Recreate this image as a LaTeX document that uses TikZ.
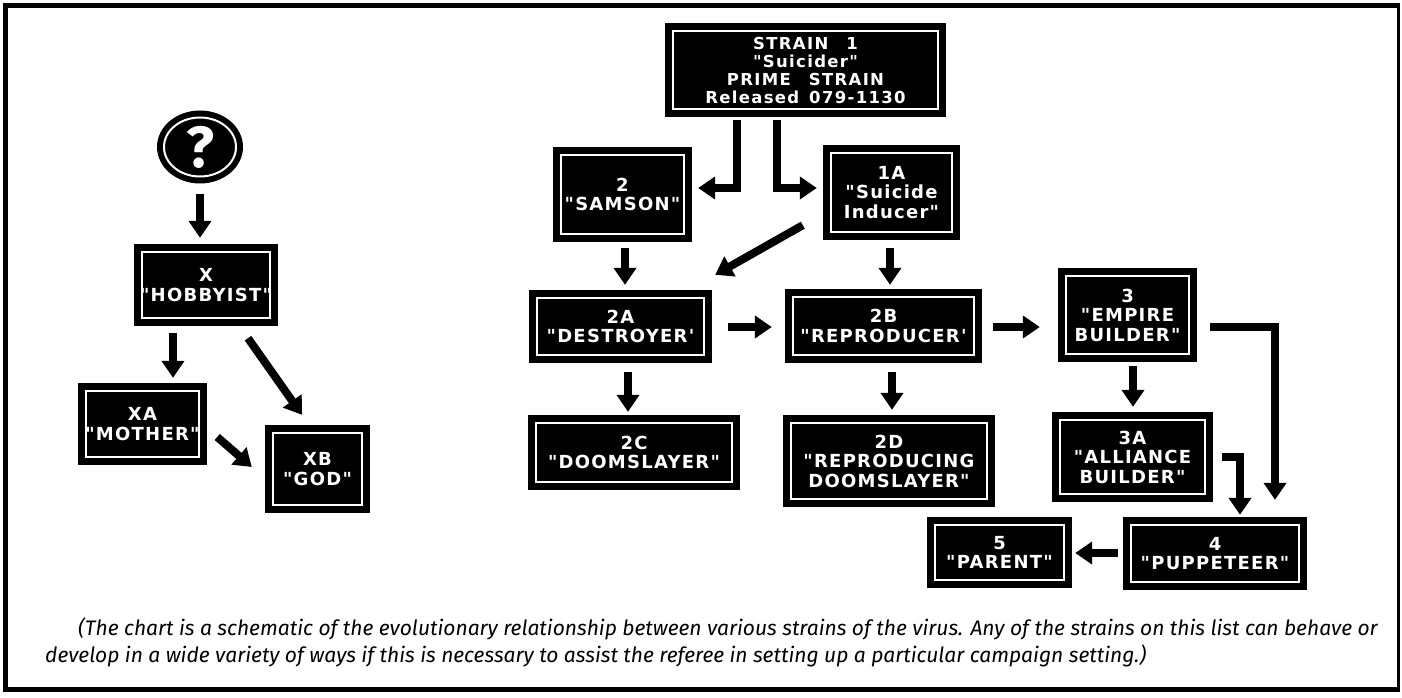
\documentclass[tikz,border=0pt]{standalone}
\usepackage{fontspec}
\usetikzlibrary{arrows.meta,shapes.geometric}
\newfontfamily\boxfont{DejaVu Sans}[LetterSpace=7]
\newfontfamily\topfont{DejaVu Sans}[LetterSpace=8]
\newfontfamily\capfont{Fira Sans}
\newcommand{\gap}{\hspace{18pt}}
\begin{document}
\begin{tikzpicture}[x=1pt,y=-1pt,
  strain/.style={fill=black, text=white, align=center, inner sep=0pt,
    font=\boxfont\bfseries\fontsize{18}{19.5}\selectfont,
    path picture={\draw[white,line width=2pt]
      ([xshift=8pt,yshift=8pt]path picture bounding box.south west) rectangle
      ([xshift=-8pt,yshift=-8pt]path picture bounding box.north east);}},
  arr/.style={line width=8pt, -{Triangle[width=22pt,length=17pt]}},
  captext/.style={anchor=base west, inner sep=0pt, font=\capfont\itshape\fontsize{21}{24}\selectfont}
]
\useasboundingbox (0,0) rectangle (1402,698);
% frame
\fill (3,3) rectangle (1400,8);
\fill (3,3) rectangle (8,692);
\fill (3,687) rectangle (1400,692);
\fill (1397,3) rectangle (1400,692);

% left tree
\node[ellipse, fill=black, minimum width=86pt, minimum height=73pt, inner sep=0pt,
  text=white, font=\capfont\bfseries\fontsize{58}{58}\selectfont] (q) at (200,147) {?};
\draw[white, line width=2pt] (q.center) ellipse [x radius=36pt, y radius=29.5pt];

\node[strain, minimum width=144pt, minimum height=82pt] (X) at (206,285) {X\\"HOBBYIST"};
\node[strain, minimum width=129pt, minimum height=82pt] (XA) at (142.5,424) {XA\\"MOTHER"};
\node[strain, minimum width=105pt, minimum height=88pt] (XB) at (317.5,469) {XB\\"GOD"};

% right tree
\node[strain, minimum width=281pt, minimum height=94pt,
  font=\topfont\bfseries\fontsize{16.5}{18}\selectfont] (S1) at (805.5,70)
  {STRAIN\gap 1\\"Suicider"\\PRIME\gap STRAIN\\Released\hspace{10pt}079-1130};
\node[strain, minimum width=139pt, minimum height=95pt] (S2) at (622.5,194.5) {2\\"SAMSON"};
\node[strain, minimum width=137pt, minimum height=95pt] (S1A) at (891.5,192.5) {1A\\"Suicide\\Inducer"};
\node[strain, minimum width=183pt, minimum height=73pt] (S2A) at (620.5,326.5) {2A\\"DESTROYER'};
\node[strain, minimum width=197pt, minimum height=74pt] (S2B) at (883.5,326) {2B\\"REPRODUCER'};
\node[strain, minimum width=212pt, minimum height=75pt] (S2C) at (634,452.5) {2C\\"DOOMSLAYER"};
\node[strain, minimum width=212pt, minimum height=92pt] (S2D) at (889,461) {2D\\"REPRODUCING\\DOOMSLAYER"};
\node[strain, minimum width=139pt, minimum height=94pt] (S3) at (1127.5,315) {3\\"EMPIRE\\BUILDER"};
\node[strain, minimum width=161pt, minimum height=90pt] (S3A) at (1132.5,457) {3A\\"ALLIANCE\\BUILDER"};
\node[strain, minimum width=184pt, minimum height=73pt] (S4) at (1215,553.5) {4\\"PUPPETEER"};
\node[strain, minimum width=145pt, minimum height=71pt] (S5) at (999.5,552.5) {5\\"PARENT"};

% arrows, left
\draw[arr] ([shift={(0,10)}]q.south) -- ([shift={(-6,-6)}]X.north);
\draw[arr] ([shift={(-33,7)}]X.south) -- ([shift={(30.5,-5)}]XA.north);
\draw[arr] ([shift={(42,12)}]X.south) -- ([shift={(-15.5,-10)}]XB.north);
\draw[arr] ([shift={(10,13)}]XA.east) -- ([shift={(-13,-2)}]XB.west);

% arrows, right
\draw[arr] ([shift={(-68.5,3)}]S1.south) |- ([shift={(6,-6.5)}]S2.east);
\draw[arr] ([shift={(-28.5,3)}]S1.south) |- ([shift={(-6,-4.5)}]S1A.west);
\draw[arr] ([shift={(-20,-15)}]S1A.south west) -- ([shift={(3,-15)}]S2A.north east);
\draw[arr] ([shift={(2.5,6)}]S2.south) -- ([shift={(4.5,-5)}]S2A.north);
\draw[arr] ([shift={(-1.5,8)}]S1A.south) -- ([shift={(6.5,-4)}]S2B.north);
\draw[arr] ([shift={(16,0.5)}]S2A.east) -- ([shift={(-13,1)}]S2B.west);
\draw[arr] ([shift={(7.5,9)}]S2A.south) -- ([shift={(-6,-3)}]S2C.north);
\draw[arr] ([shift={(8.5,9)}]S2B.south) -- ([shift={(3,-5)}]S2D.north);
\draw[arr] ([shift={(11,1)}]S2B.east) -- ([shift={(-18,12)}]S3.west);
\draw[arr] ([shift={(5.5,4)}]S3.south) -- ([shift={(0.5,-5)}]S3A.north);
\draw[arr] ([shift={(13,12)}]S3.east) -| ([shift={(60,-17)}]S4.north);
\draw[arr] ([shift={(9,0)}]S3A.east) -| ([shift={(25,-2)}]S4.north);
\draw[arr] ([shift={(-5,-0.5)}]S4.west) -- ([shift={(3,0.5)}]S5.east);

% caption
\node[captext] (c1) at (78,635) {(The chart is a schematic of the evolutionary relationship between various strains of the virus. Any of the strains on this list can behave or};
\node[captext] (c2) at (45,662) {develop in a wide variety of ways if this is necessary to assist the referee in setting up a particular campaign setting.)};
\end{tikzpicture}
\end{document}
